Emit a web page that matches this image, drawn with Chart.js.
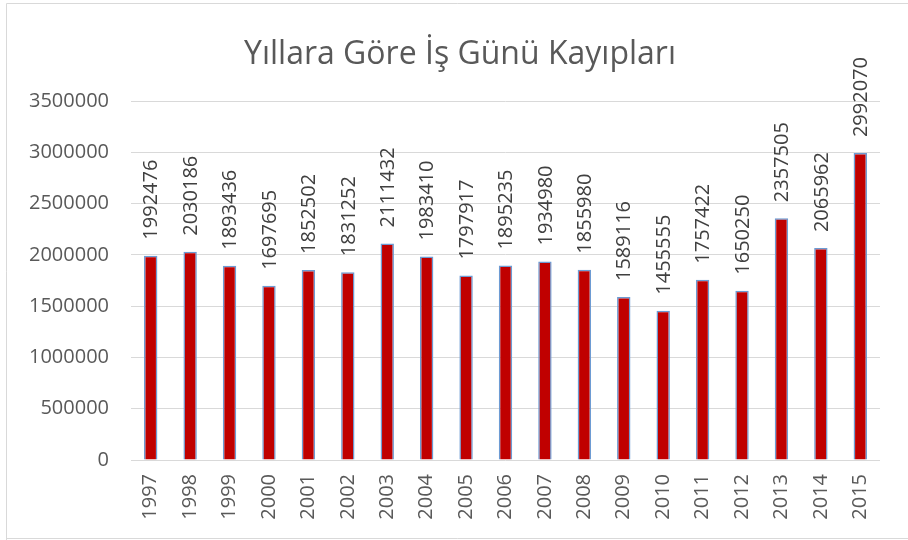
<!DOCTYPE html>
<html lang="tr">
  <head>
    <meta charset="UTF-8" />
    <script src="https://cdn.jsdelivr.net/npm/chart.js@4.4.0/dist/chart.umd.min.js"></script>
    <style>
      html, body { margin: 0; padding: 0; background: #fff; }
      #wrap { position: relative; width: 908px; height: 540px; }
    </style>
  </head>
  <body>
    <div id="wrap"><canvas id="Chart-kayip"></canvas></div>
    <script>
var chartTitle = "Yıllara Göre İş Günü Kayıpları";
var years = ["1997","1998","1999","2000","2001","2002","2003","2004","2005","2006",
             "2007","2008","2009","2010","2011","2012","2013","2014","2015"];
var lostDays = [1992476, 2030186, 1893436, 1697695, 1852502, 1831252, 2111432, 1983410, 1797917, 1895235,
                1934980, 1855980, 1589116, 1455555, 1757422, 1650250, 2357505, 2065962, 2992070];
var yTicks = [0, 500000, 1000000, 1500000, 2000000, 2500000, 3000000, 3500000];

var FONT = "'Open Sans', 'Liberation Sans', sans-serif";
var textGray = "#595959";

// çerçeve, başlık + bar üstü değerler
var extras = {
  id: "extras",
  beforeDraw: function(c) {
    var ctx = c.ctx;
    ctx.save();
    ctx.strokeStyle = "#D9D9D9";
    ctx.lineWidth = 1;
    ctx.beginPath();
    ctx.moveTo(6.5, 540);
    ctx.lineTo(6.5, 3.5);
    ctx.lineTo(908, 3.5);
    ctx.moveTo(6.5, 538.5);
    ctx.lineTo(908, 538.5);
    ctx.stroke();
    // başlık (grafik alanına göre biraz sağda ortalı)
    ctx.fillStyle = textGray;
    ctx.font = "32px " + FONT;
    ctx.textAlign = "center";
    ctx.textBaseline = "middle";
    ctx.fillText(chartTitle, 460, 55);
    ctx.restore();
  },
  afterDatasetsDraw: function(c) {
    var ctx = c.ctx;
    var meta = c.getDatasetMeta(0);
    ctx.save();
    ctx.fillStyle = "#404040";
    ctx.font = "20px " + FONT;
    ctx.textAlign = "left";
    ctx.textBaseline = "middle";
    meta.data.forEach(function(bar, i) {
      ctx.save();
      ctx.translate(bar.x, bar.y - 16);
      ctx.rotate(-Math.PI / 2);
      ctx.fillText(String(lostDays[i]), 0, 1);
      ctx.restore();
    });
    ctx.restore();
  }
};

var ctx = document.getElementById("Chart-kayip").getContext("2d");
var chart = new Chart(ctx, {
  type: "bar",
  data: {
    labels: years,
    datasets: [{
      data: lostDays,
      backgroundColor: "#C00000",
      borderColor: "#6D9BD3",
      borderWidth: 1.5,
      categoryPercentage: 1,
      barPercentage: 0.34
    }]
  },
  options: {
    animation: false,
    responsive: true,
    maintainAspectRatio: false,
    layout: { padding: { left: 0, right: 28, top: 101, bottom: 0 } },
    plugins: {
      legend: { display: false },
      tooltip: { enabled: false },
      title: { display: false }
    },
    scales: {
      x: {
        grid: { display: false },
        border: { display: false },
        ticks: {
          color: textGray,
          font: { family: FONT, size: 20 },
          minRotation: 90,
          maxRotation: 90,
          padding: 6
        },
        afterFit: function(s) { s.height = 80; }
      },
      y: {
        min: 0,
        max: 3500000,
        border: { display: false },
        grid: { color: "#D9D9D9", lineWidth: 1, drawTicks: false },
        afterBuildTicks: function(s) {
          s.ticks = yTicks.map(function(v) { return { value: v }; });
        },
        ticks: {
          color: textGray,
          font: { family: FONT, size: 20 },
          padding: 22,
          callback: function(value) { return String(value); }
        },
        afterFit: function(s) { s.width = 131; }
      }
    }
  },
  plugins: [extras]
});
    </script>
  </body>
</html>
